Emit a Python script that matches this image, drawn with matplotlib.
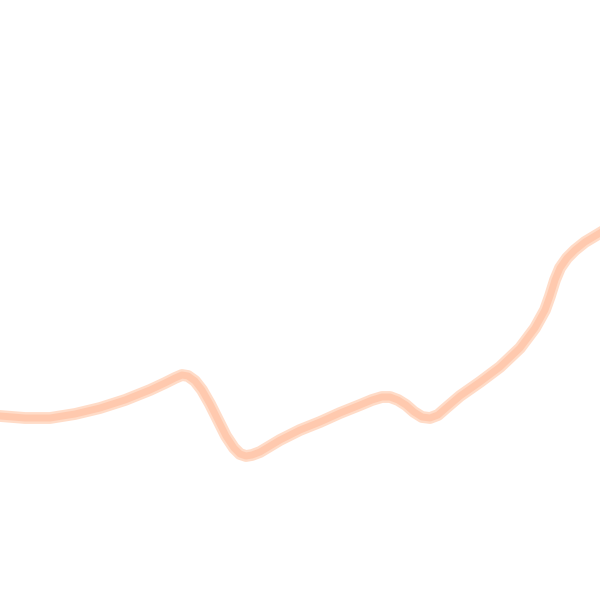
import numpy as np
import matplotlib
matplotlib.use("Agg")
import matplotlib.pyplot as plt

# series (x position, level)
x_vals = [0, 25, 50, 75, 100, 125, 150, 165, 175, 182, 188, 195, 202, 210, 218,
          226, 234, 240, 246, 252, 260, 280, 300, 320, 340, 360, 372, 382, 390,
          398, 406, 414, 422, 430, 438, 446, 460, 480, 500, 520, 535, 545, 550,
          555, 560, 567, 575, 585, 600]
y_vals = [416, 418, 418, 414, 408, 400, 390, 383, 378, 375, 376, 381, 390, 404, 420,
          436, 448, 454, 456, 455, 452, 440, 430, 422, 413, 405, 400, 397, 397,
          400, 405, 412, 417, 418, 415, 408, 396, 382, 367, 348, 328, 310, 296,
          280, 268, 258, 250, 242, 233]

fig = plt.figure(figsize=(6, 6), dpi=100, facecolor='white')
ax = fig.add_axes([0, 0, 1, 1])
ax.axis("off")

ax.plot(x_vals, y_vals, color='#ffdcc8', linewidth=8.5, solid_joinstyle='round')
ax.plot(x_vals, y_vals, color='#ffc9ae', linewidth=5, solid_joinstyle='round')

ax.set_xlim(0, 600)
ax.set_ylim(600, 0)

fig.savefig("out.png", dpi=100, facecolor='white')
